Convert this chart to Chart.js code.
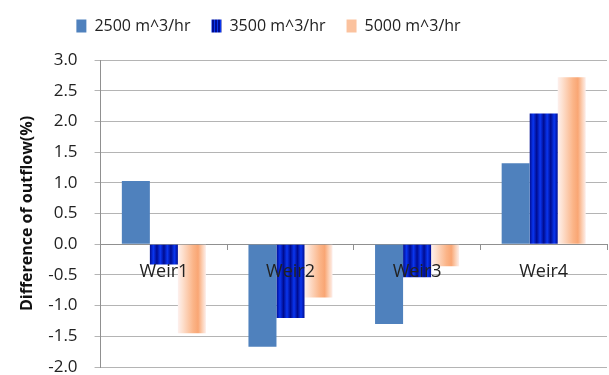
<!DOCTYPE html>
<html>
<head>
<meta charset="utf-8">
<script src="https://cdn.jsdelivr.net/npm/chart.js@4.4.1/dist/chart.umd.min.js"></script>
<style>
  html, body { margin: 0; padding: 0; background: #fff; }
  #wrap { width: 609px; height: 375px; }
</style>
</head>
<body>
<div id="wrap"><canvas id="chart"></canvas></div>
<script>
const weirs = ['Weir1', 'Weir2', 'Weir3', 'Weir4'];
const seriesNames = ['2500 m^3/hr', '3500 m^3/hr', '5000 m^3/hr'];
const flow2500 = [1.03, -1.67, -1.30, 1.32];
const flow3500 = [-0.33, -1.20, -0.54, 2.13];
const flow5000 = [-1.45, -0.87, -0.36, 2.72];
const yMin = -2.0, yMax = 3.0, yStep = 0.5;

const FONT = "'Open Sans', 'Noto Sans', sans-serif";
const CAT_PCT = 0.664;
const GRID = '#b4b4b4';

// where a bar sits, from the x scale (for the gradient fills)
function barBox(c) {
  const xs = c.chart.scales.x;
  if (!xs || !isFinite(xs.left) || !isFinite(xs.right) || xs.right <= xs.left) return null;
  const catW = (xs.right - xs.left) / weirs.length;
  const barW = catW * CAT_PCT / 3;
  const left = xs.getPixelForValue(c.dataIndex) - catW * CAT_PCT / 2 + c.datasetIndex * barW;
  if (!isFinite(left)) return null;
  return [left, barW];
}

function stripeFill(c) {
  const b = barBox(c);
  if (!b) return '#0022cc';
  const g = c.chart.ctx.createLinearGradient(b[0], 0, b[0] + b[1], 0);
  const n = 4;
  for (let k = 0; k < n; k++) {
    g.addColorStop(k / n, '#000c90');
    g.addColorStop((k + 0.5) / n, '#0a36f0');
  }
  g.addColorStop(1, '#000c90');
  return g;
}

function peachFill(c) {
  const b = barBox(c);
  if (!b) return '#f9b488';
  const g = c.chart.ctx.createLinearGradient(b[0], 0, b[0] + b[1], 0);
  g.addColorStop(0, '#fdf0ee');
  g.addColorStop(0.15, '#fde2d2');
  g.addColorStop(0.55, '#fbb487');
  g.addColorStop(0.72, '#f9a674');
  g.addColorStop(0.88, '#fcd2b8');
  g.addColorStop(1, '#fdeeea');
  return g;
}

// small patterns for the legend boxes
function legendPattern(draw, w) {
  const cv = document.createElement('canvas');
  cv.width = w; cv.height = 4;
  draw(cv.getContext('2d'), w);
  return cv;
}
const stripeCanvas = legendPattern((g, w) => {
  g.fillStyle = '#0a36f0'; g.fillRect(0, 0, w, 4);
  g.fillStyle = '#000c90'; g.fillRect(0, 0, 1, 4); g.fillRect(2, 0, 1, 4);
}, 3);

const ctx = document.getElementById('chart').getContext('2d');

const legendFills = [
  '#4f81bd',
  ctx.createPattern(stripeCanvas, 'repeat'),
  '#fbc29e'
];

const legendShift = {
  id: 'legendShift',
  beforeInit(chart) {
    const fit = chart.legend.fit;
    chart.legend.fit = function () {
      fit.call(this);
      this.height = 60;
    };
  },
  afterLayout(chart) {
    const lg = chart.legend;
    const dx = -39, dy = -3;
    lg.left += dx; lg.right += dx;
    lg.top += dy; lg.bottom += dy;
  }
};

new Chart(ctx, {
  type: 'bar',
  data: {
    labels: weirs,
    datasets: [
      { label: seriesNames[0], data: flow2500, backgroundColor: '#4f81bd', borderWidth: 0 },
      { label: seriesNames[1], data: flow3500, backgroundColor: stripeFill, borderWidth: 0 },
      { label: seriesNames[2], data: flow5000, backgroundColor: peachFill, borderWidth: 0 }
    ]
  },
  options: {
    responsive: true,
    maintainAspectRatio: false,
    animation: false,
    layout: { padding: { left: 8, right: 2, top: 0, bottom: 0 } },
    datasets: {
      bar: { categoryPercentage: CAT_PCT, barPercentage: 1.0 }
    },
    plugins: {
      tooltip: { enabled: false },
      legend: {
        position: 'top',
        labels: {
          font: { family: FONT, size: 16 },
          color: '#222',
          boxWidth: 10,
          boxHeight: 13,
          padding: 21,
          generateLabels: (chart) => chart.data.datasets.map((ds, i) => ({
            text: ds.label,
            fillStyle: legendFills[i],
            strokeStyle: 'rgba(0,0,0,0)',
            lineWidth: 0,
            hidden: false,
            datasetIndex: i,
            fontColor: '#222'
          }))
        }
      }
    },
    scales: {
      x: {
        position: { y: 0 },
        grid: {
          display: true,
          drawOnChartArea: false,
          drawTicks: true,
          tickLength: 5,
          color: '#909090',
          offset: true
        },
        border: { display: true, color: '#909090' },
        ticks: {
          z: 1,
          font: { family: FONT, size: 18 },
          color: '#222',
          padding: 12
        }
      },
      y: {
        min: yMin,
        max: yMax,
        afterFit: (scale) => { scale.paddingBottom = 8; scale.paddingTop = 8; },
        grid: { color: GRID, tickLength: 6 },
        border: { display: true, color: '#909090' },
        ticks: {
          stepSize: yStep,
          font: { family: FONT, size: 17, lineHeight: 1.1 },
          color: '#222',
          padding: 17,
          callback: (v) => Number(v).toFixed(1)
        },
        title: {
          display: true,
          text: 'Difference of outflow(%)',
          font: { family: FONT, size: 16, weight: 'bold' },
          color: '#111',
          padding: { top: 10, bottom: -6 }
        }
      }
    }
  },
  plugins: [legendShift]
});
</script>
</body>
</html>
